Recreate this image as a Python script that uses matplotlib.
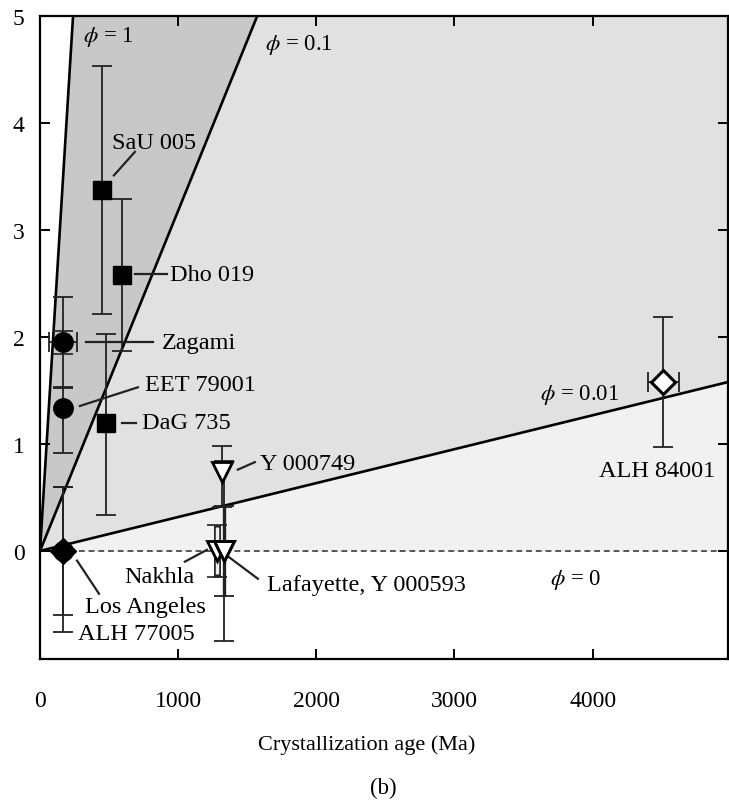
import matplotlib
matplotlib.use("Agg")
import matplotlib.pyplot as plt
import numpy as np

plt.rcParams['font.family'] = ['Liberation Serif', 'DejaVu Serif']
plt.rcParams['mathtext.fontset'] = 'stix'

# ---- data ----
phi_labels = [r"$\phi$ = 1", r"$\phi$ = 0.1", r"$\phi$ = 0.01", r"$\phi$ = 0"]
phi_slopes = [0.0209, 0.00318, 0.000317, 0.0]   # value per Ma

names = ["SaU 005", "Dho 019", "Zagami", "EET 79001", "DaG 735", "Y 000749",
         "Nakhla", "Lafayette", "Y 000593", "Los Angeles", "ALH 77005", "ALH 84001"]
ages = [448, 593, 166, 166, 477, 1316, 1280, 1330, 1330, 166, 166, 4510]
values = [3.37, 2.58, 1.95, 1.34, 1.20, 0.74, 0.0, 0.0, 0.0, 0.0, 0.0, 1.58]
err_low = [1.16, 0.71, 0.42, 0.42, 0.86, 0.33, 0.24, 0.42, 0.84, 0.60, 0.76, 0.61]
err_high = [1.16, 0.71, 0.42, 0.18, 0.83, 0.24, 0.24, 0.42, 0.84, 0.60, 0.60, 0.61]
age_err = [0, 0, 100, 0, 0, 0, 0, 0, 0, 0, 0, 112]
zagami_inner_err = 0.11

xticks = [0, 1000, 2000, 3000, 4000]
yticks = [0, 1, 2, 3, 4, 5]
xmax, ymin, ymax = 4980, -1.01, 5.0

# ---- figure ----
fig = plt.figure(figsize=(7.29, 8.03), dpi=100)
ax = fig.add_axes([40/729, (803-660)/803, 688/729, (660-17)/803])
ax.set_xlim(0, xmax)
ax.set_ylim(ymin, ymax)

x = np.linspace(0, xmax, 2000)
y1 = np.minimum(phi_slopes[0]*x, ymax)
y01 = np.minimum(phi_slopes[1]*x, ymax)
y001 = np.minimum(phi_slopes[2]*x, ymax)
ax.fill_between(x, y01, y1, color='#c8c8c8', lw=0, zorder=0)
ax.fill_between(x, y001, y01, color='#e1e1e1', lw=0, zorder=0)
ax.fill_between(x, 0, y001, color='#f1f1f1', lw=0, zorder=0)

for s in phi_slopes[:3]:
    ax.plot(x, s*x, color='black', lw=1.9, zorder=2, clip_on=True)
ax.plot([0, xmax], [0, 0], color='#555555', lw=1.4, ls=(0, (3, 2)), zorder=1)

# error bars
ekw = dict(fmt='none', ecolor='#222222', elinewidth=1.2, capsize=7, capthick=1.2, zorder=3)
for i, n in enumerate(names):
    if n == "Nakhla":
        continue
    lw = 2.4 if n == "Lafayette" else 1.3
    xe = age_err[i] if age_err[i] > 0 else None
    ax.errorbar([ages[i]], [values[i]], yerr=[[err_low[i]], [err_high[i]]], xerr=xe,
                fmt='none', ecolor='#222222', elinewidth=lw, capsize=7, capthick=1.3, zorder=3)
zi = names.index("Zagami")
ax.errorbar([ages[zi]], [values[zi]], yerr=zagami_inner_err, **ekw)
ni = names.index("Nakhla")
ax.errorbar([ages[ni]], [values[ni]], yerr=err_low[ni], fmt='none', ecolor='#222222',
            elinewidth=5, capsize=7, capthick=1.2, zorder=3)
ax.errorbar([ages[ni]], [values[ni]], yerr=err_low[ni]-0.02, fmt='none', ecolor='#eeeeee',
            elinewidth=2.5, capsize=0, zorder=3.1)

# markers
style = {
    "SaU 005": dict(marker='s', ms=13, mfc='black', mec='black'),
    "Dho 019": dict(marker='s', ms=13, mfc='black', mec='black'),
    "DaG 735": dict(marker='s', ms=13, mfc='black', mec='black'),
    "Zagami": dict(marker='o', ms=14, mfc='black', mec='black'),
    "EET 79001": dict(marker='o', ms=14, mfc='black', mec='black'),
    "ALH 77005": dict(marker='D', ms=13, mfc='black', mec='black'),
    "Los Angeles": dict(marker='o', ms=14, mfc='black', mec='black'),
    "Y 000749": dict(marker='v', ms=15, mfc='white', mec='black', mew=2),
    "Nakhla": dict(marker='v', ms=15, mfc='white', mec='black', mew=2),
    "Lafayette": dict(marker='v', ms=15, mfc='white', mec='black', mew=2),
    "Y 000593": dict(marker='v', ms=15, mfc='none', mec='black', mew=2),
    "ALH 84001": dict(marker='D', ms=12, mfc='white', mec='black', mew=2.2),
}
for i, n in enumerate(names):
    ax.plot([ages[i]], [values[i]], ls='none', zorder=4, **style[n])

# phi labels
pfs = 16.5
ax.text(311, 4.81, phi_labels[0], fontsize=pfs, va='center', ha='left', zorder=5)
ax.text(1627, 4.74, phi_labels[1], fontsize=pfs, va='center', ha='left', zorder=5)
ax.text(3617, 1.47, phi_labels[2], fontsize=pfs, va='center', ha='left', zorder=5)
ax.text(3690, -0.26, phi_labels[3], fontsize=pfs, va='center', ha='left', zorder=5)

# meteorite labels and leaders
fs = 17.5
def lab(txt, xx, yy, ha='left'):
    ax.text(xx, yy, txt, fontsize=fs, va='center', ha=ha, zorder=5)

def lead(x0, y0, x1, y1):
    ax.plot([x0, x1], [y0, y1], color='#222222', lw=1.6, zorder=3.5)

lab("SaU 005", 520, 3.82); lead(535, 3.51, 687, 3.73)
lab("Dho 019", 940, 2.58); lead(687, 2.59, 919, 2.59)
lab("Zagami", 882, 1.95); lead(333, 1.95, 817, 1.95)
lab("EET 79001", 760, 1.56); lead(289, 1.355, 709, 1.53)
lab("DaG 735", 738, 1.20); lead(593, 1.20, 694, 1.20)
lab("Y 000749", 1591, 0.82); lead(1432, 0.76, 1555, 0.83)
lab("Nakhla", 1121, -0.24, ha='right'); lead(1049, -0.10, 1208, 0.01)
lab("Lafayette, Y 000593", 1642, -0.31); lead(1360, -0.05, 1577, -0.26)
lab("Los Angeles", 760, -0.52, ha='center'); lead(268, -0.09, 427, -0.40)
lab("ALH 77005", 700, -0.77, ha='center')
lab("ALH 84001", 4470, 0.75, ha='center')

# axes styling
for sp in ax.spines.values():
    sp.set_linewidth(1.6)
ax.set_xticks(xticks)
ax.set_yticks(yticks)
ax.tick_params(direction='in', length=7, width=1.4, top=True, right=True,
               labelsize=17)
ax.tick_params(axis='x', pad=22)
ax.tick_params(axis='y', pad=11)

fig.text(367/729, 1 - 745/803, "Crystallization age (Ma)", fontsize=16, ha='center', va='center')
fig.text(383/729, 1 - 788/803, "(b)", fontsize=16.5, ha='center', va='center')

fig.savefig("out.png", dpi=100)
